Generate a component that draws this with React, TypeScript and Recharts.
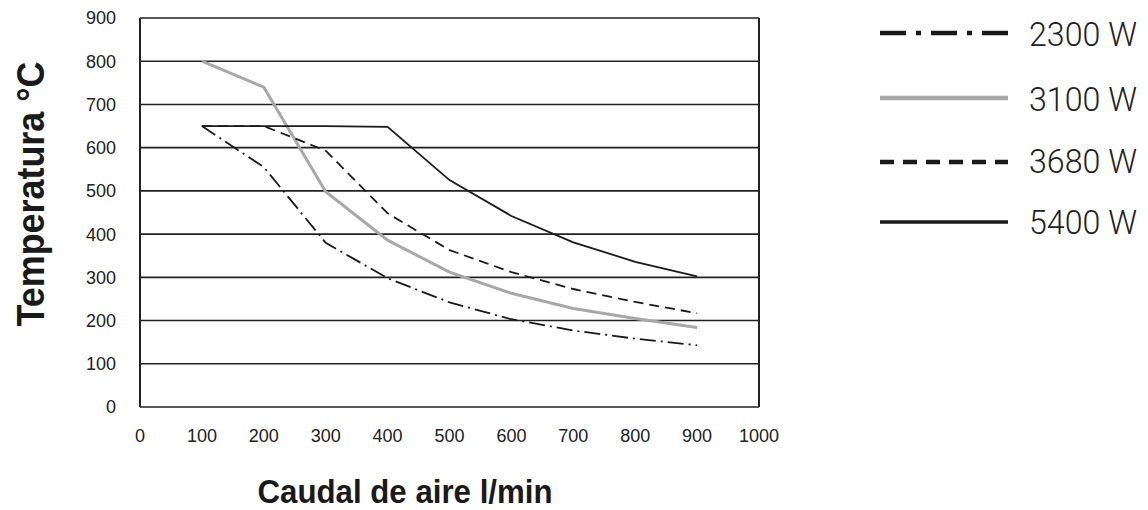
import {
  LineChart,
  Line,
  XAxis,
  YAxis,
  CartesianGrid,
  ReferenceLine,
  Legend,
} from 'recharts'

// air flow (l/min) and outlet temperature (°C) per heater power
const flows = [100, 200, 300, 400, 500, 600, 700, 800, 900]
const temp2300 = [650, 555, 380, 298, 242, 203, 177, 158, 143]
const temp3100 = [800, 740, 498, 386, 312, 263, 228, 205, 184]
const temp3680 = [650, 650, 593, 448, 363, 312, 273, 243, 217]
const temp5400 = [650, 650, 650, 648, 525, 442, 381, 336, 302]

const xTicks = [0, 100, 200, 300, 400, 500, 600, 700, 800, 900, 1000]
const yTicks = [0, 100, 200, 300, 400, 500, 600, 700, 800, 900]

const series = [
  { key: 'w2300', name: '2300 W', values: temp2300, color: '#1a1a1a', width: 1.8, dash: '16 5 2 5', legendWidth: 4.5, legendDash: '26 10 5 10' },
  { key: 'w3100', name: '3100 W', values: temp3100, color: '#a8a8a8', width: 3, dash: undefined, legendWidth: 4.5, legendDash: undefined },
  { key: 'w3680', name: '3680 W', values: temp3680, color: '#1a1a1a', width: 1.8, dash: '10 6', legendWidth: 4.5, legendDash: '14 9' },
  { key: 'w5400', name: '5400 W', values: temp5400, color: '#1a1a1a', width: 1.8, dash: undefined, legendWidth: 3.6, legendDash: undefined },
]

const data = flows.map((flow, i) => {
  const row: Record<string, number> = { flow }
  series.forEach((s) => {
    row[s.key] = s.values[i]
  })
  return row
})

const legendRows = [
  { lineY: 33, textY: 46 },
  { lineY: 98, textY: 111 },
  { lineY: 162, textY: 173 },
  { lineY: 222, textY: 234 },
]

const renderLegend = () => (
  <svg width={278} height={250} style={{ display: 'block' }}>
    {series.map((s, i) => (
      <g key={s.key}>
        <line
          x1={10}
          x2={138}
          y1={legendRows[i].lineY}
          y2={legendRows[i].lineY}
          stroke={s.color}
          strokeWidth={s.legendWidth}
          strokeDasharray={s.legendDash}
        />
        <text
          x={159}
          y={legendRows[i].textY}
          fontFamily='Roboto, "Liberation Sans", sans-serif'
          fontWeight={300}
          fontSize={34}
          fill='#222'
          textLength={108}
          lengthAdjust='spacingAndGlyphs'
        >
          {s.name}
        </text>
      </g>
    ))}
  </svg>
)

const tickStyle = {
  fontSize: 18,
  fill: '#222',
  fontFamily: '"Liberation Sans", Arial, sans-serif',
}

export default function App() {
  return (
    <div style={{ position: 'absolute', left: 0, top: 0, width: 1148, height: 510, background: '#fff' }}>
      <LineChart
        width={1148}
        height={510}
        data={data}
        margin={{ top: 18, right: 389, bottom: 0, left: 0 }}
      >
        <CartesianGrid vertical={false} stroke='#222' strokeWidth={1.6} />
        <XAxis
          dataKey='flow'
          type='number'
          domain={[0, 1000]}
          ticks={xTicks}
          height={103}
          axisLine={false}
          tickLine={false}
          tickSize={0}
          tickMargin={22}
          tick={tickStyle}
          interval={0}
          label={{
            content: () => (
              <text
                x={405}
                y={503}
                textAnchor='middle'
                fontFamily='"Liberation Sans", Arial, sans-serif'
                fontWeight='bold'
                fontSize={34}
                fill='#1a1a1a'
                textLength={295}
                lengthAdjust='spacingAndGlyphs'
              >
                Caudal de aire l/min
              </text>
            ),
          }}
        />
        <YAxis
          type='number'
          domain={[0, 900]}
          ticks={yTicks}
          width={140}
          axisLine={false}
          tickLine={false}
          tickSize={0}
          tickMargin={24}
          tick={tickStyle}
          interval={0}
          label={{
            content: () => (
              <text
                x={44}
                y={194}
                transform='rotate(-90 44 194)'
                textAnchor='middle'
                fontFamily='"Liberation Sans", Arial, sans-serif'
                fontWeight='bold'
                fontSize={39}
                fill='#1a1a1a'
                textLength={265}
                lengthAdjust='spacingAndGlyphs'
              >
                Temperatura °C
              </text>
            ),
          }}
        />
        <ReferenceLine x={0} stroke='#222' strokeWidth={2} />
        <ReferenceLine x={1000} stroke='#222' strokeWidth={2} />
        {/* legend sits to the right of the plot; centre/middle keeps it from resizing the plot */}
        <Legend
          layout='vertical'
          align='center'
          verticalAlign='middle'
          content={renderLegend}
          wrapperStyle={{ position: 'absolute', left: 870, top: 0, width: 278, height: 250 }}
        />
        {series.map((s) => (
          <Line
            key={s.key}
            type='linear'
            dataKey={s.key}
            name={s.name}
            stroke={s.color}
            strokeWidth={s.width}
            strokeDasharray={s.dash}
            dot={false}
            activeDot={false}
            isAnimationActive={false}
          />
        ))}
      </LineChart>
    </div>
  )
}
